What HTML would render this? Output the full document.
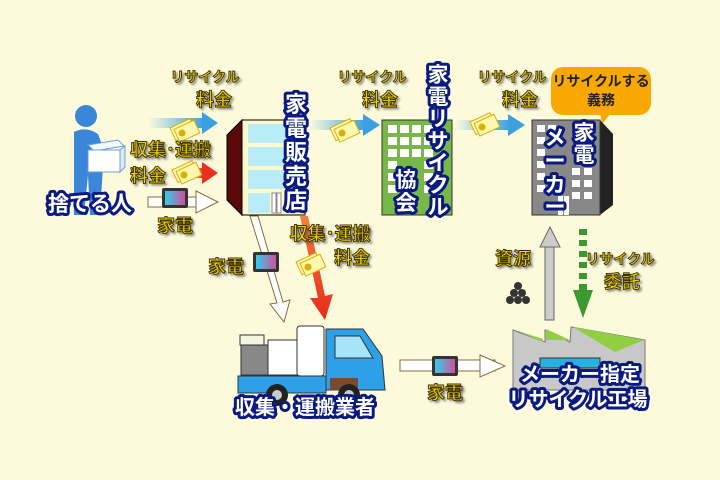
<!DOCTYPE html>
<html><head><meta charset="utf-8"><style>
html,body{margin:0;padding:0;background:#fdfadc;}
svg{display:block}
text{font-family:"Liberation Sans","Noto Sans CJK JP",sans-serif;font-weight:bold}
.y{fill:#f2d400;stroke:#3a3000;stroke-width:0.9;filter:url(#sh)}
.w{fill:#fff;stroke:#0a1a80;stroke-width:6;paint-order:stroke;stroke-linejoin:round}
</style></head><body>
<svg width="720" height="480" viewBox="0 0 720 480" xmlns="http://www.w3.org/2000/svg">
<defs>
<filter id="sh" x="-20%" y="-20%" width="140%" height="140%"><feDropShadow dx="2" dy="2" stdDeviation="1" flood-color="#444" flood-opacity="0.6"/></filter>
<linearGradient id="bl" x1="0" x2="1"><stop offset="0" stop-color="#3aa0e0" stop-opacity="0"/><stop offset="1" stop-color="#3aa0e0"/></linearGradient>
<linearGradient id="rd" x1="0" x2="1"><stop offset="0" stop-color="#f08030" stop-opacity="0"/><stop offset="1" stop-color="#e83020"/></linearGradient>
<linearGradient id="rd2" x1="0" y1="0" x2="0" y2="1"><stop offset="0" stop-color="#f08040"/><stop offset="1" stop-color="#e82818"/></linearGradient>
<linearGradient id="tv" x1="0" x2="1"><stop offset="0" stop-color="#30d0e8"/><stop offset="1" stop-color="#d050a0"/></linearGradient>
<g id="tvi"><rect x="0" y="0" width="26" height="20" rx="2" fill="#333"/><rect x="3" y="3" width="20" height="14" fill="url(#tv)"/></g>
<g id="money"><rect x="0" y="0" width="22" height="14" fill="#fff6b0" stroke="#d8b000" transform="rotate(-25)"/><rect x="3" y="3" width="22" height="14" fill="#fff6b0" stroke="#d8b000" transform="rotate(-25)"/><circle cx="12" cy="5" r="3.5" fill="#d8b000"/></g>
</defs>
<rect width="720" height="480" fill="#fdfadc"/>

<!-- person -->
<g fill="#3a86d8">
<circle cx="86" cy="116" r="11"/>
<path d="M74 132 Q86 126 98 134 L104 150 L100 215 L90 215 L88 175 L84 215 L74 215 Z"/>
</g>
<g><polygon points="88,145 118,140 124,146 94,151" fill="#f4f8ff" stroke="#6aa0d8"/><rect x="88" y="150" width="32" height="22" fill="#fff" stroke="#6aa0d8"/><polygon points="120,150 125,146 125,167 120,172" fill="#dde8f8" stroke="#6aa0d8"/></g>
<text x="90" y="211" font-size="21" class="w" text-anchor="middle">捨てる人</text>

<!-- arrows left -->
<rect x="148" y="118" width="56" height="10" fill="url(#bl)"/><polygon points="202,112 218,123 202,134" fill="#3aa0e0"/>
<rect x="168" y="168" width="36" height="10" fill="url(#rd)"/><polygon points="202,162 218,173 202,184" fill="#e83020"/>
<rect x="148" y="197" width="54" height="10" fill="#fff" stroke="#8a6a40"/><polygon points="196,191 218,202 196,213" fill="#fff" stroke="#8a6a40"/>
<use href="#tvi" x="162" y="188"/>
<use href="#money" x="170" y="128"/>
<use href="#money" x="172" y="170"/>
<text x="205" y="82" font-size="14" class="y" text-anchor="middle">リサイクル</text>
<text x="214" y="106" font-size="18" class="y" text-anchor="middle">料金</text>
<text x="130" y="156" font-size="18" class="y">収集･運搬</text>
<text x="130" y="182" font-size="18" class="y">料金</text>
<text x="175" y="232" font-size="18" class="y" text-anchor="middle">家電</text>

<!-- store -->
<polygon points="227,135 242,120 242,215 227,200" fill="#5a0808" stroke="#000"/>
<rect x="242" y="120" width="63" height="95" fill="#fff8c8" stroke="#000"/>
<g fill="#b8ecf8"><rect x="248" y="124" width="50" height="19"/><rect x="248" y="147" width="50" height="19"/><rect x="248" y="170" width="50" height="19"/><rect x="248" y="193" width="22" height="20"/></g>
<g fill="#fff" stroke="#888"><rect x="272" y="193" width="4" height="20"/><rect x="277" y="193" width="4" height="20"/></g>
<g font-size="22" class="w" text-anchor="middle"><text x="296" y="112">家</text><text x="296" y="136">電</text><text x="296" y="160">販</text><text x="296" y="184">売</text><text x="296" y="208">店</text></g>

<!-- arrows from store -->
<polygon points="250,216 258,216 283,302 290,300 284,322 270,304 277,303" fill="#fff" stroke="#8a6a40"/>
<polygon points="300,216 308,216 325,296 333,294 325,320 310,298 318,298" fill="url(#rd2)"/>
<use href="#tvi" x="253" y="252"/>
<use href="#money" x="296" y="262"/>
<text x="226" y="273" font-size="18" class="y" text-anchor="middle">家電</text>
<text x="330" y="240" font-size="18" class="y" text-anchor="middle">収集･運搬</text>
<text x="352" y="264" font-size="18" class="y" text-anchor="middle">料金</text>

<!-- middle arrow -->
<rect x="310" y="120" width="55" height="10" fill="url(#bl)"/><polygon points="363,114 380,125 363,136" fill="#3aa0e0"/>
<use href="#money" x="330" y="128"/>
<text x="372" y="82" font-size="14" class="y" text-anchor="middle">リサイクル</text>
<text x="380" y="106" font-size="18" class="y" text-anchor="middle">料金</text>

<!-- green building -->
<rect x="382" y="120" width="70" height="95" fill="#78b848" stroke="#333"/>
<g fill="#fff">
<rect x="388" y="125" width="9" height="8"/><rect x="400" y="125" width="9" height="8"/><rect x="412" y="125" width="9" height="8"/><rect x="424" y="125" width="9" height="8"/>
<rect x="388" y="137" width="9" height="8"/><rect x="400" y="137" width="9" height="8"/><rect x="412" y="137" width="9" height="8"/><rect x="424" y="137" width="9" height="8"/>
<rect x="388" y="149" width="9" height="8"/><rect x="400" y="149" width="9" height="8"/><rect x="412" y="149" width="9" height="8"/><rect x="424" y="149" width="9" height="8"/>
<rect x="388" y="161" width="9" height="8"/><rect x="424" y="161" width="9" height="8"/><rect x="388" y="173" width="9" height="8"/><rect x="424" y="173" width="9" height="8"/>
<rect x="388" y="185" width="9" height="8"/><rect x="424" y="185" width="9" height="8"/>
</g>
<g font-size="21" class="w" text-anchor="middle"><text x="406" y="187">協</text><text x="406" y="210">会</text></g>
<g font-size="21" class="w" text-anchor="middle"><text x="438" y="82">家</text><text x="438" y="104">電</text><text x="438" y="126">リ</text><text x="438" y="148">サ</text><text x="438" y="170">イ</text><text x="438" y="192">ク</text><text x="438" y="214">ル</text></g>

<!-- right arrow -->
<rect x="455" y="120" width="55" height="10" fill="url(#bl)"/><polygon points="508,114 525,125 508,136" fill="#3aa0e0"/>
<use href="#money" x="470" y="122"/>
<text x="512" y="82" font-size="14" class="y" text-anchor="middle">リサイクル</text>
<text x="520" y="106" font-size="18" class="y" text-anchor="middle">料金</text>

<!-- bubble -->
<rect x="551" y="67" width="100" height="48" rx="12" fill="#f8a800"/>
<polygon points="600,112 612,112 602,124" fill="#f8a800"/>
<text x="601" y="86" font-size="14" text-anchor="middle" fill="#222">リサイクルする</text>
<text x="601" y="105" font-size="14" text-anchor="middle" fill="#222">義務</text>

<!-- gray building -->
<polygon points="600,120 613,134 613,205 600,215" fill="#222"/>
<rect x="532" y="120" width="68" height="95" fill="#888" stroke="#333"/>
<g fill="#fff">
<rect x="537" y="125" width="8" height="7"/><rect x="548" y="125" width="8" height="7"/><rect x="537" y="137" width="8" height="7"/><rect x="537" y="149" width="8" height="7"/><rect x="537" y="161" width="8" height="7"/><rect x="537" y="173" width="8" height="7"/><rect x="537" y="185" width="8" height="7"/>
<rect x="572" y="168" width="8" height="7"/><rect x="584" y="168" width="8" height="7"/><rect x="572" y="180" width="8" height="7"/><rect x="584" y="180" width="8" height="7"/><rect x="572" y="192" width="8" height="7"/><rect x="584" y="192" width="8" height="7"/>
<rect x="558" y="196" width="5" height="19"/><rect x="564" y="196" width="5" height="19"/>
</g>
<g font-size="21" class="w" text-anchor="middle"><text x="555" y="145">メ</text><text x="555" y="168">ー</text><text x="555" y="192">カ</text><text x="555" y="214">ー</text></g>
<g font-size="21" class="w" text-anchor="middle"><text x="584" y="140">家</text><text x="584" y="162">電</text></g>

<!-- up arrow -->
<rect x="545" y="245" width="9" height="75" fill="#ccc" stroke="#666"/>
<polygon points="540,247 550,227 560,247" fill="#ccc" stroke="#666"/>
<text x="513" y="265" font-size="18" class="y" text-anchor="middle">資源</text>
<g fill="#333"><circle cx="510" cy="300" r="4"/><circle cx="518" cy="300" r="4"/><circle cx="526" cy="300" r="4"/><circle cx="514" cy="293" r="4"/><circle cx="522" cy="293" r="4"/><circle cx="518" cy="286" r="4"/></g>
<!-- dashed green -->
<g fill="#3a9a30"><rect x="579" y="229" width="8" height="6"/><rect x="579" y="240" width="8" height="6"/><rect x="579" y="251" width="8" height="6"/><rect x="579" y="262" width="8" height="6"/><rect x="579" y="273" width="8" height="6"/><rect x="579" y="284" width="8" height="6"/></g>
<polygon points="573,290 593,290 583,318" fill="#3a9a30"/>
<text x="620" y="264" font-size="14" class="y" text-anchor="middle">リサイクル</text>
<text x="622" y="288" font-size="18" class="y" text-anchor="middle">委託</text>

<!-- factory -->
<polygon points="513,330 545,342 545,330 570,342 571,327 645,340 645,390 513,390" fill="#c8c8c8" stroke="#777"/>
<polygon points="515,330 543,339 543,342" fill="#90d040"/>
<polygon points="546,329 570,340 546,340" fill="#90d040"/>
<polygon points="573,327 644,340 615,352" fill="#90d040"/>
<rect x="540" y="358" width="60" height="10" fill="#2ab0e0" stroke="#333"/>
<text x="580" y="381" font-size="20" class="w" text-anchor="middle">メーカー指定</text>
<text x="578" y="406" font-size="20" class="w" text-anchor="middle">リサイクル工場</text>

<!-- truck -->
<rect x="240" y="335" width="24" height="10" fill="#f4f4e0" stroke="#333"/>
<rect x="241" y="345" width="28" height="30" fill="#888" stroke="#333"/>
<rect x="268" y="340" width="30" height="35" fill="#fff" stroke="#333"/>
<rect x="297" y="326" width="27" height="50" rx="3" fill="#fff" stroke="#333"/>
<rect x="238" y="376" width="88" height="17" fill="#2ea0e8" stroke="#333"/>
<path d="M326 329 L363 329 L382 356 L385 390 L326 390 Z" fill="#2ea0e8" stroke="#333"/>
<path d="M335 336 L360 336 L373 358 L335 358 Z" fill="#a8e4f8" stroke="#333"/>
<rect x="330" y="378" width="28" height="12" fill="#7a4a30"/>
<circle cx="277" cy="395" r="11" fill="#222"/><circle cx="277" cy="395" r="5" fill="#ccc"/>
<circle cx="349" cy="395" r="11" fill="#222"/><circle cx="349" cy="395" r="5" fill="#ccc"/>
<text x="305" y="414" font-size="20" class="w" text-anchor="middle">収集・運搬業者</text>

<!-- bottom arrow -->
<rect x="400" y="360" width="95" height="11" fill="#fff" stroke="#8a6a40"/>
<polygon points="480,355 505,366 480,377" fill="#fff" stroke="#8a6a40"/>
<use href="#tvi" x="432" y="356"/>
<text x="445" y="399" font-size="18" class="y" text-anchor="middle">家電</text>
</svg>
</body></html>
